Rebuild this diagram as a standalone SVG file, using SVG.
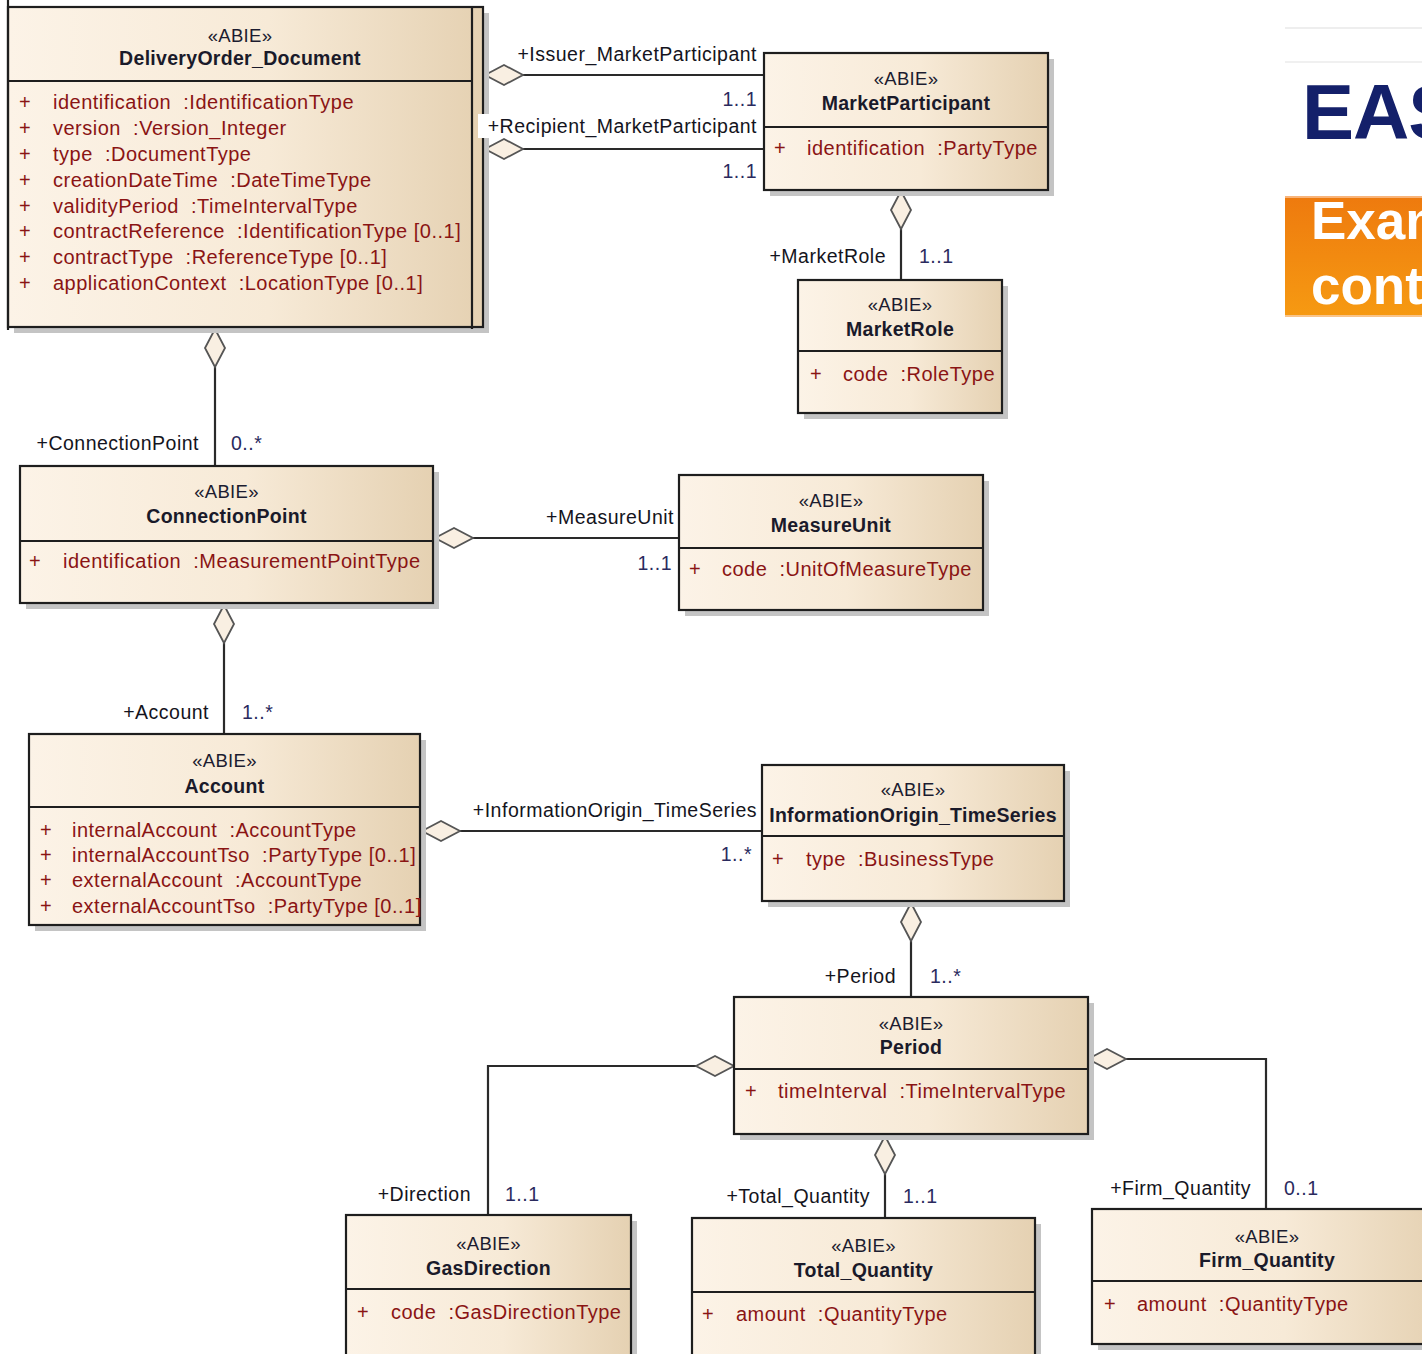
<svg xmlns="http://www.w3.org/2000/svg" xmlns:xlink="http://www.w3.org/1999/xlink" width="1422" height="1354" viewBox="0 0 1422 1354">
  <style>
    text { font-family: "Liberation Sans", Arial, sans-serif; white-space: pre; }
    .body { fill: url(#cls); stroke: #1e1e1e; stroke-width: 2.2; }
    .shadow { fill: #c4c4c4; }
    .div { stroke: #1e1e1e; stroke-width: 2.2; }
    .st { font-size: 18.5px; fill: #1c1c30; text-anchor: middle; letter-spacing: 0.3px; }
    .nm { font-size: 19.5px; font-weight: bold; fill: #1a1a2a; text-anchor: middle; letter-spacing: 0.3px; }
    .at { font-size: 20px; fill: #8a1414; letter-spacing: 0.5px; }
    .pl { font-size: 20px; fill: #8a1414; }
    .rl { font-size: 19.5px; fill: #141420; letter-spacing: 0.5px; text-anchor: end; }
    .ml { font-size: 19.5px; fill: #2a2a5e; letter-spacing: 0.5px; }
    .mr { font-size: 19.5px; fill: #2a2a5e; letter-spacing: 0.5px; text-anchor: end; }
    .ln { fill: none; stroke: #2a2a2a; stroke-width: 2.2; }
    .dia { fill: #f9efe2; stroke: #555; stroke-width: 1.8; }
  </style>
  <defs>
    <linearGradient id="cls" x1="0" y1="0" x2="1" y2="0">
      <stop offset="0" stop-color="#fcf3e7"/>
      <stop offset="0.55" stop-color="#f7ead7"/>
      <stop offset="1" stop-color="#e5d1b2"/>
    </linearGradient>
    <linearGradient id="orange" x1="0" y1="0" x2="0" y2="1">
      <stop offset="0" stop-color="#ee7a0e"/>
      <stop offset="1" stop-color="#f69a12"/>
    </linearGradient>
    <polygon id="dia" class="dia" points="-19,0 0,-10 19,0 0,10"/>
  </defs>

  <rect width="1422" height="1354" fill="#ffffff"/>

  <!-- banner fragment on the right edge -->
  <g id="banner">
    <line x1="1285" y1="28" x2="1422" y2="28" stroke="#eeeeee" stroke-width="2"/>
    <line x1="1285" y1="62" x2="1422" y2="62" stroke="#f0f0f0" stroke-width="2"/>
    <text x="1302" y="139" font-size="78" font-weight="bold" fill="#14206a" letter-spacing="-1">EAS</text>
    <rect x="1285" y="196" width="140" height="121" fill="url(#orange)"/>
    <line x1="1285" y1="197" x2="1422" y2="197" stroke="#f8b47a" stroke-width="2"/>
    <line x1="1285" y1="316" x2="1422" y2="316" stroke="#f9c48a" stroke-width="2"/>
    <text x="1311" y="239" font-size="53" font-weight="bold" fill="#ffffff">Exam</text>
    <text x="1311" y="304" font-size="53" font-weight="bold" fill="#ffffff">cont</text>
  </g>

  <!-- connectors -->
  <g id="connectors">
    <path class="ln" d="M523,75 H764"/>
    <path class="ln" d="M523,149 H764"/>
    <path class="ln" d="M901,229 V280"/>
    <path class="ln" d="M215,367 V466"/>
    <path class="ln" d="M473,538 H679"/>
    <path class="ln" d="M224,643 V734"/>
    <path class="ln" d="M460,831 H762"/>
    <path class="ln" d="M911,941 V997"/>
    <path class="ln" d="M696,1066 H488 V1215"/>
    <path class="ln" d="M885,1174 V1218"/>
    <path class="ln" d="M1126,1059 H1266 V1209"/>

    <use xlink:href="#dia" transform="translate(504,75)"/>
    <use xlink:href="#dia" transform="translate(504,149)"/>
    <use xlink:href="#dia" transform="translate(901,210) rotate(90)"/>
    <use xlink:href="#dia" transform="translate(215,348) rotate(90)"/>
    <use xlink:href="#dia" transform="translate(454,538)"/>
    <use xlink:href="#dia" transform="translate(224,624) rotate(90)"/>
    <use xlink:href="#dia" transform="translate(441,831)"/>
    <use xlink:href="#dia" transform="translate(911,922) rotate(90)"/>
    <use xlink:href="#dia" transform="translate(715,1066)"/>
    <use xlink:href="#dia" transform="translate(885,1155) rotate(90)"/>
    <use xlink:href="#dia" transform="translate(1107,1059)"/>

    <!-- role names and multiplicities -->
    <text class="rl" x="757" y="61">+Issuer_MarketParticipant</text>
    <text class="mr" x="757" y="106">1..1</text>
    <text class="mr" x="757" y="178">1..1</text>
    <text class="rl" x="886" y="263">+MarketRole</text>
    <text class="ml" x="919" y="263">1..1</text>
    <text class="rl" x="199" y="450">+ConnectionPoint</text>
    <text class="ml" x="231" y="450">0..*</text>
    <text class="rl" x="674" y="524">+MeasureUnit</text>
    <text class="mr" x="672" y="570">1..1</text>
    <text class="rl" x="209" y="719">+Account</text>
    <text class="ml" x="242" y="719">1..*</text>
    <text class="rl" x="757" y="817">+InformationOrigin_TimeSeries</text>
    <text class="mr" x="752" y="861">1..*</text>
    <text class="rl" x="896" y="983">+Period</text>
    <text class="ml" x="930" y="983">1..*</text>
    <text class="rl" x="471" y="1201">+Direction</text>
    <text class="ml" x="505" y="1201">1..1</text>
    <text class="rl" x="870" y="1203">+Total_Quantity</text>
    <text class="ml" x="903" y="1203">1..1</text>
    <text class="rl" x="1251" y="1195">+Firm_Quantity</text>
    <text class="ml" x="1284" y="1195">0..1</text>
  </g>

  <!-- DeliveryOrder_Document -->
  <g id="DeliveryOrder_Document">
    <rect class="shadow" x="14" y="13" width="475" height="320"/>
    <rect class="body" x="8" y="7" width="475" height="320"/>
    <line class="div" x1="8" y1="0" x2="8" y2="330"/>
    <line class="div" x1="472" y1="7" x2="472" y2="329"/>
    <line class="div" x1="8" y1="81" x2="472" y2="81"/>
    <text class="st" x="240" y="42">«ABIE»</text>
    <text class="nm" x="240" y="65">DeliveryOrder_Document</text>
    <text class="pl" x="19" y="109">+</text><text class="at" x="53" y="109">identification&#160; :IdentificationType</text>
    <text class="pl" x="19" y="135">+</text><text class="at" x="53" y="135">version&#160; :Version_Integer</text>
    <text class="pl" x="19" y="161">+</text><text class="at" x="53" y="161">type&#160; :DocumentType</text>
    <text class="pl" x="19" y="187">+</text><text class="at" x="53" y="187">creationDateTime&#160; :DateTimeType</text>
    <text class="pl" x="19" y="213">+</text><text class="at" x="53" y="213">validityPeriod&#160; :TimeIntervalType</text>
    <text class="pl" x="19" y="238">+</text><text class="at" x="53" y="238">contractReference&#160; :IdentificationType [0..1]</text>
    <text class="pl" x="19" y="264">+</text><text class="at" x="53" y="264">contractType&#160; :ReferenceType [0..1]</text>
    <text class="pl" x="19" y="290">+</text><text class="at" x="53" y="290">applicationContext&#160; :LocationType [0..1]</text>
  </g>

  <!-- label drawn over the document border -->
  <g id="recipient-label">
    <rect x="478" y="114" width="280" height="24" fill="#ffffff"/>
    <text class="rl" x="757" y="133">+Recipient_MarketParticipant</text>
  </g>

  <!-- MarketParticipant -->
  <g id="MarketParticipant">
    <rect class="shadow" x="770" y="59" width="284" height="137"/>
    <rect class="body" x="764" y="53" width="284" height="137"/>
    <line class="div" x1="764" y1="127" x2="1048" y2="127"/>
    <text class="st" x="906" y="85">«ABIE»</text>
    <text class="nm" x="906" y="110">MarketParticipant</text>
    <text class="pl" x="774" y="155">+</text><text class="at" x="807" y="155">identification&#160; :PartyType</text>
  </g>

  <!-- MarketRole -->
  <g id="MarketRole">
    <rect class="shadow" x="804" y="286" width="204" height="133"/>
    <rect class="body" x="798" y="280" width="204" height="133"/>
    <line class="div" x1="798" y1="351" x2="1002" y2="351"/>
    <text class="st" x="900" y="311">«ABIE»</text>
    <text class="nm" x="900" y="336">MarketRole</text>
    <text class="pl" x="810" y="381">+</text><text class="at" x="843" y="381">code&#160; :RoleType</text>
  </g>

  <!-- ConnectionPoint -->
  <g id="ConnectionPoint">
    <rect class="shadow" x="26" y="472" width="413" height="137"/>
    <rect class="body" x="20" y="466" width="413" height="137"/>
    <line class="div" x1="20" y1="541" x2="433" y2="541"/>
    <text class="st" x="226.5" y="498">«ABIE»</text>
    <text class="nm" x="226.5" y="523">ConnectionPoint</text>
    <text class="pl" x="29" y="568">+</text><text class="at" x="63" y="568">identification&#160; :MeasurementPointType</text>
  </g>

  <!-- MeasureUnit -->
  <g id="MeasureUnit">
    <rect class="shadow" x="685" y="481" width="304" height="135"/>
    <rect class="body" x="679" y="475" width="304" height="135"/>
    <line class="div" x1="679" y1="548" x2="983" y2="548"/>
    <text class="st" x="831" y="507">«ABIE»</text>
    <text class="nm" x="831" y="532">MeasureUnit</text>
    <text class="pl" x="689" y="576">+</text><text class="at" x="722" y="576">code&#160; :UnitOfMeasureType</text>
  </g>

  <!-- Account -->
  <g id="Account">
    <rect class="shadow" x="35" y="740" width="391" height="191"/>
    <rect class="body" x="29" y="734" width="391" height="191"/>
    <line class="div" x1="29" y1="807" x2="420" y2="807"/>
    <text class="st" x="224.5" y="767">«ABIE»</text>
    <text class="nm" x="224.5" y="793">Account</text>
    <text class="pl" x="40" y="837">+</text><text class="at" x="72" y="837">internalAccount&#160; :AccountType</text>
    <text class="pl" x="40" y="862">+</text><text class="at" x="72" y="862">internalAccountTso&#160; :PartyType [0..1]</text>
    <text class="pl" x="40" y="887">+</text><text class="at" x="72" y="887">externalAccount&#160; :AccountType</text>
    <text class="pl" x="40" y="913">+</text><text class="at" x="72" y="913">externalAccountTso&#160; :PartyType [0..1]</text>
  </g>

  <!-- InformationOrigin_TimeSeries -->
  <g id="InformationOrigin_TimeSeries">
    <rect class="shadow" x="768" y="771" width="302" height="136"/>
    <rect class="body" x="762" y="765" width="302" height="136"/>
    <line class="div" x1="762" y1="836" x2="1064" y2="836"/>
    <text class="st" x="913" y="796">«ABIE»</text>
    <text class="nm" x="913" y="822">InformationOrigin_TimeSeries</text>
    <text class="pl" x="772" y="866">+</text><text class="at" x="806" y="866">type&#160; :BusinessType</text>
  </g>

  <!-- Period -->
  <g id="Period">
    <rect class="shadow" x="740" y="1003" width="354" height="137"/>
    <rect class="body" x="734" y="997" width="354" height="137"/>
    <line class="div" x1="734" y1="1069" x2="1088" y2="1069"/>
    <text class="st" x="911" y="1030">«ABIE»</text>
    <text class="nm" x="911" y="1054">Period</text>
    <text class="pl" x="745" y="1098">+</text><text class="at" x="778" y="1098">timeInterval&#160; :TimeIntervalType</text>
  </g>

  <!-- GasDirection -->
  <g id="GasDirection">
    <rect class="shadow" x="352" y="1221" width="285" height="160"/>
    <rect class="body" x="346" y="1215" width="285" height="160"/>
    <line class="div" x1="346" y1="1289" x2="631" y2="1289"/>
    <text class="st" x="488.5" y="1250">«ABIE»</text>
    <text class="nm" x="488.5" y="1275">GasDirection</text>
    <text class="pl" x="357" y="1319">+</text><text class="at" x="391" y="1319">code&#160; :GasDirectionType</text>
  </g>

  <!-- Total_Quantity -->
  <g id="Total_Quantity">
    <rect class="shadow" x="698" y="1224" width="343" height="160"/>
    <rect class="body" x="692" y="1218" width="343" height="160"/>
    <line class="div" x1="692" y1="1292" x2="1035" y2="1292"/>
    <text class="st" x="863.5" y="1252">«ABIE»</text>
    <text class="nm" x="863.5" y="1277">Total_Quantity</text>
    <text class="pl" x="702" y="1321">+</text><text class="at" x="736" y="1321">amount&#160; :QuantityType</text>
  </g>

  <!-- Firm_Quantity -->
  <g id="Firm_Quantity">
    <rect class="shadow" x="1098" y="1215" width="350" height="135"/>
    <rect class="body" x="1092" y="1209" width="350" height="135"/>
    <line class="div" x1="1092" y1="1281" x2="1442" y2="1281"/>
    <text class="st" x="1267" y="1243">«ABIE»</text>
    <text class="nm" x="1267" y="1267">Firm_Quantity</text>
    <text class="pl" x="1104" y="1311">+</text><text class="at" x="1137" y="1311">amount&#160; :QuantityType</text>
  </g>
</svg>
